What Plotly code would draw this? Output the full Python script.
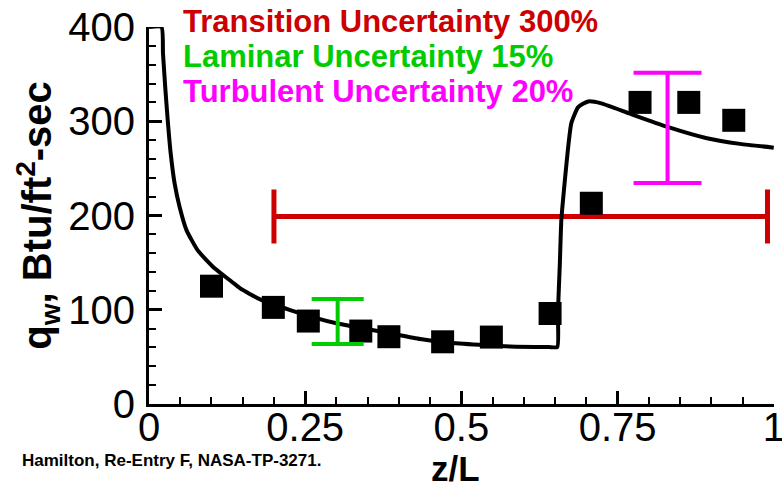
import plotly.graph_objects as go

# Computed wall heat flux along the body (z/L vs q_w)
curve_x = [0.0, 0.020, 0.0224, 0.026, 0.030, 0.0347, 0.041, 0.049, 0.060, 0.078,
           0.105, 0.132, 0.146, 0.178, 0.226, 0.300, 0.386, 0.434, 0.480, 0.578,
           0.640, 0.6535, 0.6545, 0.6576, 0.660, 0.6656, 0.671, 0.676, 0.687,
           0.703, 0.724, 0.770, 0.830, 0.893, 0.946, 1.0]
curve_y = [400, 400, 372, 336, 301, 266, 234, 209, 184.5, 163,
           144, 130, 122.7, 111, 99.7, 85.6, 75, 69, 65, 61,
           60.5, 60.5, 96, 149, 195, 237, 273, 298, 315,
           321, 319, 308, 294, 282, 276, 272]

# Flight measurements
meas_x = [0.100, 0.199, 0.255, 0.339, 0.384, 0.470, 0.548, 0.642, 0.708, 0.786, 0.864, 0.936]
meas_y = [125, 102.5, 88, 77.4, 71.4, 66, 71, 96, 213, 320, 320, 301]

# Uncertainty bands
trans_x, trans_y, trans_dx = [0.595], [199], [0.395]
lam_x, lam_y, lam_dy = [0.302], [87.5], [23.8]
turb_x, turb_y, turb_dy = [0.830], [293], [58.5]

x_ticks = [0, 0.25, 0.5, 0.75, 1]
x_tick_text = ["0", "0.25", "0.5", "0.75", "1"]
y_ticks = [0, 100, 200, 300, 400]

legend_lines = ["Transition Uncertainty 300%", "Laminar Uncertainty 15%", "Turbulent Uncertainty 20%"]
legend_colors = ["#CC0000", "#00CC00", "#FF00FF"]
legend_y = [1.0135, 0.9206, 0.8288]

FONT = "Liberation Sans, Arial, sans-serif"

fig = go.Figure()

fig.add_trace(go.Scatter(
    x=trans_x, y=trans_y, mode="markers",
    marker=dict(opacity=0, color=legend_colors[0]),
    error_x=dict(type="data", array=trans_dx, color=legend_colors[0], thickness=5, width=27),
    showlegend=False, hoverinfo="skip"))

fig.add_trace(go.Scatter(
    x=curve_x, y=curve_y, mode="lines",
    line=dict(color="black", width=4, shape="spline", smoothing=0.5),
    showlegend=False))

fig.add_trace(go.Scatter(
    x=meas_x, y=meas_y, mode="markers",
    marker=dict(symbol="square", size=23, color="black", line=dict(width=0)),
    showlegend=False))

fig.add_trace(go.Scatter(
    x=lam_x, y=lam_y, mode="markers",
    marker=dict(opacity=0, color=legend_colors[1]),
    error_y=dict(type="data", array=lam_dy, color=legend_colors[1], thickness=4, width=26),
    showlegend=False, hoverinfo="skip"))

fig.add_trace(go.Scatter(
    x=turb_x, y=turb_y, mode="markers",
    marker=dict(opacity=0, color=legend_colors[2]),
    error_y=dict(type="data", array=turb_dy, color=legend_colors[2], thickness=4, width=34),
    showlegend=False, hoverinfo="skip"))

axis_common = dict(
    showline=True, linecolor="black", linewidth=3, mirror=False,
    showgrid=False, zeroline=False,
    ticks="inside", ticklen=13, tickwidth=2.5, tickcolor="black",
    tickfont=dict(family=FONT, size=40, color="black"),
    ticklabeloverflow="allow", automargin=False,
)

fig.update_xaxes(range=[0, 1.0004], tickvals=x_ticks, ticktext=x_tick_text,
                 ticklabelstandoff=-14,
                 minor=dict(dtick=0.05, ticks="inside", ticklen=7, tickwidth=1.5, tickcolor="black"),
                 **axis_common)
fig.update_yaxes(range=[0, 400], tickvals=y_ticks, ticklabelstandoff=3,
                 minor=dict(dtick=20, ticks="inside", ticklen=7, tickwidth=1.5, tickcolor="black"),
                 **axis_common)

annotations = []
for txt, col, yy in zip(legend_lines, legend_colors, legend_y):
    annotations.append(dict(
        text=f"<b>{txt}</b>", x=0.0512, y=yy,
        xref="x", yref="paper", xanchor="left", yanchor="middle",
        showarrow=False, font=dict(family=FONT, size=31, color=col)))

annotations.append(dict(
    text="<b>q<sub>w</sub>, Btu/ft<sup>2</sup>-sec</b>", textangle=-90,
    x=-0.179, y=0.5, xref="paper", yref="paper", xanchor="center", yanchor="middle",
    showarrow=False, font=dict(family=FONT, size=40, color="black")))

annotations.append(dict(
    text="<b>z/L</b>", x=0.49, y=-0.172, xref="x", yref="paper",
    xanchor="center", yanchor="middle", showarrow=False,
    font=dict(family=FONT, size=35, color="black")))

annotations.append(dict(
    text="<b>Hamilton, Re-Entry F, NASA-TP-3271.</b>", x=-0.2064, y=-0.151,
    xref="paper", yref="paper", xanchor="left", yanchor="middle", showarrow=False,
    font=dict(family=FONT, size=17, color="black")))

fig.update_layout(
    width=782, height=483,
    margin=dict(l=149, r=8, t=27, b=79, pad=0, autoexpand=False),
    paper_bgcolor="white", plot_bgcolor="white",
    annotations=annotations,
    showlegend=False,
)

fig.write_html("out.html")
